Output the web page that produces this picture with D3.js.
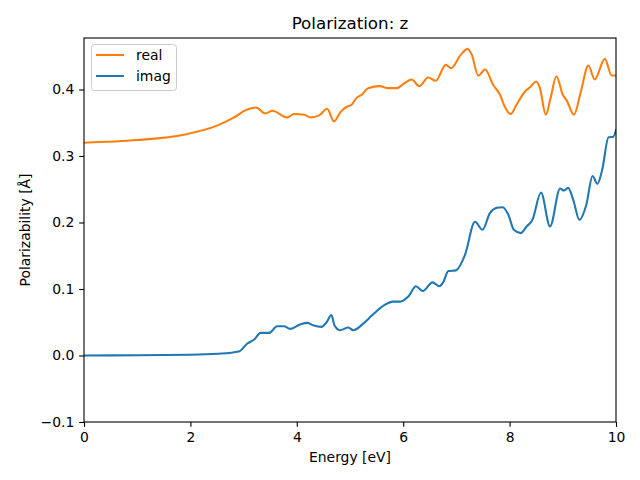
<!DOCTYPE html>
<html><head><meta charset="utf-8">
<script src="https://cdn.jsdelivr.net/npm/d3@7"></script>
<style>body{margin:0;background:#fff}svg{font-family:"DejaVu Sans",sans-serif}</style>
</head><body><svg id="c" width="640" height="480"></svg>
<script>
const realE = [0,1.0,1.88,2.51,2.82,3.04,3.23,3.41,3.54,3.82,3.95,4.14,4.26,4.42,4.57,4.70,4.82,4.94,5.03,5.12,5.22,5.34,5.56,5.72,5.88,6.00,6.16,6.30,6.47,6.61,6.80,6.90,7.08,7.21,7.29,7.41,7.54,7.69,7.82,7.91,8.02,8.13,8.29,8.38,8.50,8.57,8.68,8.77,8.88,9.00,9.07,9.21,9.34,9.48,9.60,9.79,9.92,10.0];
const realV = [0.320,0.324,0.332,0.346,0.358,0.369,0.373,0.364,0.368,0.358,0.363,0.362,0.358,0.361,0.371,0.352,0.366,0.374,0.377,0.387,0.392,0.402,0.405,0.402,0.402,0.408,0.415,0.405,0.418,0.413,0.437,0.432,0.452,0.461,0.452,0.421,0.430,0.407,0.392,0.374,0.363,0.377,0.397,0.403,0.412,0.402,0.362,0.387,0.420,0.392,0.384,0.362,0.397,0.436,0.415,0.446,0.421,0.421];
const imagE = [0,1.0,2.0,2.51,2.91,3.07,3.20,3.32,3.48,3.63,3.76,3.88,4.07,4.20,4.32,4.46,4.56,4.65,4.71,4.81,4.97,5.06,5.25,5.41,5.63,5.81,5.94,6.10,6.24,6.37,6.55,6.68,6.75,6.85,6.99,7.16,7.35,7.49,7.63,7.76,7.87,7.98,8.08,8.21,8.32,8.43,8.59,8.76,8.95,9.02,9.10,9.20,9.31,9.44,9.56,9.65,9.74,9.86,9.95,10.0];
const imagV = [0.000,0.0003,0.001,0.0025,0.006,0.018,0.024,0.034,0.034,0.044,0.044,0.040,0.047,0.049,0.045,0.043,0.050,0.061,0.045,0.038,0.042,0.038,0.048,0.060,0.075,0.081,0.081,0.089,0.104,0.097,0.110,0.104,0.110,0.127,0.128,0.151,0.201,0.189,0.214,0.222,0.223,0.211,0.189,0.184,0.194,0.204,0.245,0.194,0.251,0.248,0.252,0.233,0.204,0.226,0.270,0.258,0.279,0.328,0.329,0.339];
const xTicks = [0,2,4,6,8,10];
const yTicks = [-0.1,0.0,0.1,0.2,0.3,0.4];
const seriesNames = ["real","imag"];
const colors = ["#ff7f0e","#1f77b4"];

const svg = d3.select("#c");
const L=84,R=616,T=38,B=422;
const x = d3.scaleLinear().domain([0,10]).range([L,R]);
const y = d3.scaleLinear().domain([-0.1,0.4774]).range([B,T]);
const fmt = v => d3.format(".1f")(v).replace("-","\u2212");

const line = d3.line().x(d=>x(d[0])).y(d=>y(d[1])).curve(d3.curveMonotoneX);
const clip = svg.append("clipPath").attr("id","cp").append("rect").attr("x",L).attr("y",T).attr("width",R-L).attr("height",B-T);
const g = svg.append("g").attr("clip-path","url(#cp)");
const series = [d3.zip(realE,realV), d3.zip(imagE,imagV)];
series.forEach((s,i)=>g.append("path").attr("d",line(s)).attr("fill","none").attr("stroke",colors[i]).attr("stroke-width",2.08).attr("stroke-linejoin","round").attr("stroke-linecap","square"));

const xa = svg.append("g").attr("transform",`translate(0,${B})`).call(d3.axisBottom(x).tickValues(xTicks).tickSize(4.86).tickPadding(4.86).tickFormat(d3.format("d")));
const ya = svg.append("g").attr("transform",`translate(${L},0)`).call(d3.axisLeft(y).tickValues(yTicks).tickSize(4.86).tickPadding(4.86).tickFormat(fmt));
[xa,ya].forEach(a=>{a.select(".domain").remove();a.selectAll("text").attr("font-size",13.9).attr("font-family","DejaVu Sans").attr("fill","#000");a.selectAll("line").attr("stroke","#000").attr("stroke-width",1.1);});
svg.append("rect").attr("x",L).attr("y",T).attr("width",R-L).attr("height",B-T).attr("fill","none").attr("stroke","#000").attr("stroke-width",1.1);

svg.append("text").attr("x",(L+R)/2).attr("y",T-9).attr("text-anchor","middle").attr("font-size",16.7).text("Polarization: z");
svg.append("text").attr("x",(L+R)/2).attr("y",462).attr("text-anchor","middle").attr("font-size",13.9).text("Energy [eV]");
svg.append("text").attr("transform",`translate(30,${(T+B)/2}) rotate(-90)`).attr("text-anchor","middle").attr("font-size",13.9).text("Polarizability [Å]");

const lg = svg.append("g");
lg.append("rect").attr("x",91.5).attr("y",44.5).attr("width",85).attr("height",46).attr("rx",3).attr("fill","#fff").attr("fill-opacity",0.8).attr("stroke","#ccc");
seriesNames.forEach((n,i)=>{
  const yy = 55+i*21;
  lg.append("line").attr("x1",96).attr("x2",124).attr("y1",yy).attr("y2",yy).attr("stroke",colors[i]).attr("stroke-width",2.08);
  lg.append("text").attr("x",136).attr("y",yy+5).attr("font-size",13.9).text(n);
});
</script></body></html>
